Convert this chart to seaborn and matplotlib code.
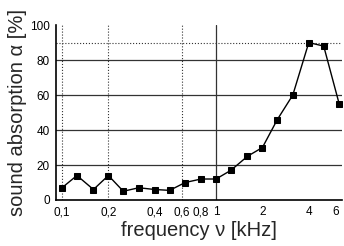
import numpy as np
import pandas as pd
import matplotlib
matplotlib.use('Agg')
import matplotlib.pyplot as plt
import seaborn as sns

sns.set_style('white')
plt.rcParams['font.family'] = ['Liberation Sans', 'DejaVu Sans']

# third-octave band centres [kHz] and measured absorption [%]
freq_khz = [0.1, 0.125, 0.16, 0.2, 0.25, 0.315, 0.4, 0.5, 0.63, 0.8,
            1.0, 1.25, 1.6, 2.0, 2.5, 3.15, 4.0, 5.0, 6.3]
alpha_pct = [7, 14, 6, 14, 5, 7, 6, 5.5, 10, 12,
             12, 17, 25, 30, 46, 60, 90, 88, 55]

tick_pos = [0.1, 0.2, 0.4, 0.6, 0.8, 1, 2, 4, 6]
tick_lbl = ['0,1', '0,2', '0,4', '0,6', '0,8', '1', '2', '4', '6']

df = pd.DataFrame({'freq': freq_khz, 'alpha': alpha_pct})

fig = plt.figure(figsize=(3.44, 2.46), dpi=100)
ax = fig.add_axes([0.163, 0.187, 0.832, 0.711])

# grid as in the scanned original
for yv in [20, 40, 60, 80]:
    ax.axhline(yv, color='#333333', lw=0.9, zorder=1)
ax.axhline(90, color='#333333', lw=0.8, ls=':', zorder=1)
for xv in [0.1, 0.2, 0.6]:
    ax.axvline(xv, color='#333333', lw=0.8, ls=':', zorder=1)
ax.axvline(1, color='#333333', lw=0.9, zorder=1)

sns.lineplot(data=df, x='freq', y='alpha', ax=ax, color='black', lw=1,
             marker='s', markersize=4, markeredgecolor='black', zorder=3)

ax.set_xscale('log')
ax.set_xlim(0.0915, 6.6)
ax.set_ylim(0, 100)
ax.set_xticks(tick_pos)
ax.set_xticklabels(tick_lbl)
ax.xaxis.set_minor_locator(matplotlib.ticker.NullLocator())
ax.set_yticks([0, 20, 40, 60, 80, 100])

for s in ['top', 'right']:
    ax.spines[s].set_visible(False)
for s in ['left', 'bottom']:
    ax.spines[s].set_color('black')
    ax.spines[s].set_linewidth(1.2)

ax.tick_params(axis='both', direction='out', length=3, width=1,
               labelsize=8.5, pad=1.5, colors='black')
ax.set_xlabel('frequency ν [kHz]', fontsize=14.5, labelpad=2)
ax.set_ylabel('sound absorption α [%]', fontsize=14.5, labelpad=2)

fig.savefig('out.png', dpi=100)
